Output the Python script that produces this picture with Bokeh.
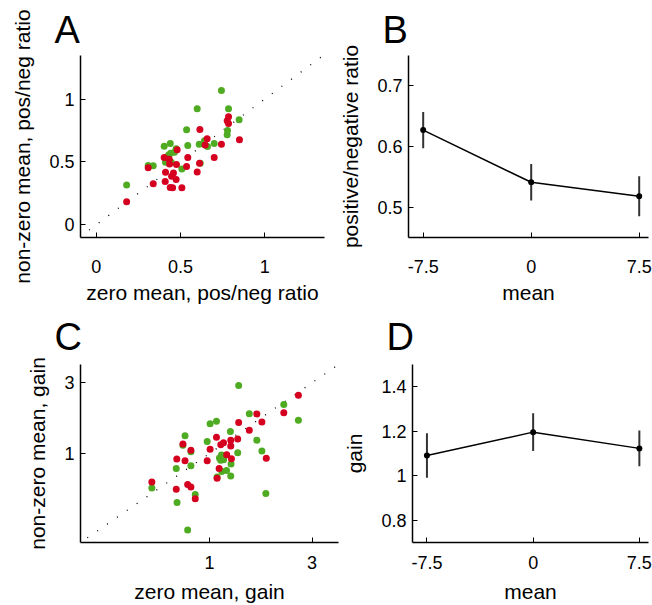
from bokeh.plotting import figure
from bokeh.layouts import column, row
from bokeh.models import FixedTicker, Range1d
from bokeh.embed import file_html
from bokeh.resources import INLINE

FONT = "Liberation Sans"
GREEN = "#4fab22"
RED = "#d5001f"

# ---------------- data ----------------
# Panel A: pos/neg ratio, zero mean (x) vs non-zero mean (y)
a_green_x = [0.743, 0.599, 0.785, 0.848, 0.536, 0.779, 0.777, 0.642, 0.611, 0.660, 0.700, 0.439, 0.403,
             0.543, 0.474, 0.441, 0.464, 0.429, 0.411, 0.445, 0.308, 0.338, 0.508, 0.617, 0.180]
a_green_y = [1.068, 0.924, 0.924, 0.836, 0.755, 0.750, 0.716, 0.669, 0.640, 0.623, 0.646, 0.646, 0.625,
             0.630, 0.604, 0.568, 0.576, 0.555, 0.497, 0.497, 0.471, 0.469, 0.443, 0.490, 0.315]
a_red_x = [0.785, 0.777, 0.785, 0.615, 0.658, 0.646, 0.743, 0.850, 0.480, 0.403, 0.433, 0.435, 0.543, 0.700,
           0.476, 0.536, 0.613, 0.308, 0.411, 0.458, 0.447, 0.599, 0.474, 0.409, 0.338, 0.439, 0.453, 0.508, 0.180]
a_red_y = [0.859, 0.828, 0.805, 0.758, 0.685, 0.635, 0.640, 0.677, 0.596, 0.534, 0.521, 0.484, 0.534, 0.534,
           0.479, 0.463, 0.490, 0.453, 0.417, 0.412, 0.385, 0.419, 0.359, 0.344, 0.326, 0.297, 0.294, 0.294, 0.182]
a_ticks = [0, 0.5, 1]
a_tick_labels = ["0", "0.5", "1"]
a_identity = [-0.1, 1.35]

# Panel C: gain, zero mean (x) vs non-zero mean (y), log axes
c_green_x = [1.366, 2.215, 2.59, 1.531, 1.006, 1.077, 1.25, 0.975, 1.66, 0.769, 0.752, 0.819, 1.352, 1.752,
             1.112, 1.137, 1.162, 1.127, 1.259, 0.819, 0.70, 1.20, 1.14, 1.255, 1.084, 0.539, 0.858, 0.706,
             1.828, 0.791]
c_green_y = [2.868, 2.135, 1.678, 1.853, 1.587, 1.652, 1.406, 1.205, 1.229, 1.319, 1.135, 1.026, 1.01, 1.041,
             0.933, 0.976, 0.906, 0.90, 0.848, 0.827, 0.791, 0.767, 0.756, 0.704, 0.694, 0.585, 0.529, 0.467,
             0.537, 0.305]
c_red_x = [2.59, 2.215, 1.66, 1.752, 1.366, 1.531, 1.077, 1.255, 1.352, 1.161, 1.128, 1.255, 0.752, 0.819,
           1.006, 0.704, 0.769, 0.975, 1.202, 1.264, 1.836, 1.108, 1.084, 0.539, 0.791, 0.819, 0.70, 0.858]
c_red_y = [2.466, 1.882, 1.845, 1.629, 1.618, 1.435, 1.285, 1.229, 1.253, 1.18, 1.145, 1.122, 1.157, 1.052,
           1.068, 0.919, 0.892, 0.892, 0.98, 0.923, 0.927, 0.791, 0.68, 0.643, 0.618, 0.594, 0.573, 0.496]
c_ticks = [1, 3]
c_tick_labels = ["1", "3"]
c_identity = [0.27, 3.9]

# Panels B and D: means
means = [-7.5, 0, 7.5]
mean_tick_labels = ["-7.5", "0", "7.5"]
ratio_vals = [0.627, 0.541, 0.518]
ratio_err = [0.030, 0.030, 0.033]
ratio_ticks = [0.5, 0.6, 0.7]
ratio_tick_labels = ["0.5", "0.6", "0.7"]
gain_vals = [1.091, 1.196, 1.123]
gain_err = [0.100, 0.085, 0.080]
gain_ticks = [0.8, 1, 1.2, 1.4]
gain_tick_labels = ["0.8", "1", "1.2", "1.4"]


def style(p, xt, xl, yt, yl, xlabel, ylabel, x_std, x_lab_std):
    p.outline_line_color = None
    p.grid.visible = False
    p.background_fill_color = "white"
    p.border_fill_color = "white"
    for ax, ticks, labels, lab in ((p.xaxis[0], xt, xl, xlabel), (p.yaxis[0], yt, yl, ylabel)):
        ax.ticker = FixedTicker(ticks=ticks, minor_ticks=[])
        ax.major_label_overrides = {t: l for t, l in zip(ticks, labels)}
        ax.minor_tick_line_color = None
        ax.major_tick_in = 5
        ax.major_tick_out = 0
        ax.major_tick_line_width = 1
        ax.axis_line_width = 1.5
        ax.axis_line_color = "black"
        ax.major_tick_line_color = "black"
        ax.major_label_text_font = FONT
        ax.major_label_text_font_size = "18px"
        ax.major_label_text_color = "black"
        ax.axis_label = lab
        ax.axis_label_text_font = FONT
        ax.axis_label_text_font_size = "21px"
        ax.axis_label_text_font_style = "normal"
        ax.axis_label_text_color = "black"
    p.xaxis.major_label_standoff = x_std
    p.xaxis.axis_label_standoff = x_lab_std
    p.yaxis.major_label_standoff = 6
    p.yaxis.axis_label_standoff = 12


def letter(p, txt, standoff):
    p.title.text = txt
    p.title.text_font = FONT
    p.title.text_font_size = "38px"
    p.title.text_font_style = "normal"
    p.title.text_color = "black"
    p.title.align = "left"
    p.title.offset = -26
    p.title.standoff = standoff


# ---------- A ----------
pa = figure(width=330, height=306, min_border_left=80, min_border_right=6, min_border_top=55,
            min_border_bottom=66, x_range=Range1d(-0.094, 1.355), y_range=Range1d(-0.102, 1.347),
            output_backend="svg", toolbar_location=None)
pa.line(a_identity, a_identity, line_color="black", line_width=1.3, line_dash="1 11")
pa.scatter(a_green_x, a_green_y, size=7, fill_color=GREEN, line_color=None)
pa.scatter(a_red_x, a_red_y, size=7, fill_color=RED, line_color=None)
style(pa, a_ticks, a_tick_labels, a_ticks, a_tick_labels, "zero mean, pos/neg ratio",
      "non-zero mean, pos/neg ratio", 22, 5)
letter(pa, "A", 9)

# ---------- B ----------
pb = figure(width=322, height=306, min_border_left=78, min_border_right=4, min_border_top=55,
            min_border_bottom=66, x_range=Range1d(-8.52, 8.146), y_range=Range1d(0.45, 0.75),
            output_backend="svg", toolbar_location=None)
pb.segment(x0=means, y0=[v - e for v, e in zip(ratio_vals, ratio_err)], x1=means,
           y1=[v + e for v, e in zip(ratio_vals, ratio_err)], line_color="#333333", line_width=2)
pb.line(means, ratio_vals, line_color="black", line_width=1.5)
pb.scatter(means, ratio_vals, size=6, fill_color="black", line_color=None)
style(pb, means, mean_tick_labels, ratio_ticks, ratio_tick_labels, "mean", "positive/negative ratio", 22, 5)
letter(pb, "B", 9)

# ---------- C ----------
pc = figure(width=340, height=299, min_border_left=80, min_border_right=2, min_border_top=57,
            min_border_bottom=58, x_axis_type="log", y_axis_type="log",
            x_range=Range1d(0.251, 3.98), y_range=Range1d(0.251, 3.98),
            output_backend="svg", toolbar_location=None)
pc.line(c_identity, c_identity, line_color="black", line_width=1.3, line_dash="1 11")
pc.scatter(c_green_x, c_green_y, size=7, fill_color=GREEN, line_color=None)
pc.scatter(c_red_x, c_red_y, size=7, fill_color=RED, line_color=None)
style(pc, c_ticks, c_tick_labels, c_ticks, c_tick_labels, "zero mean, gain", "non-zero mean, gain", 13, 8)
letter(pc, "C", 14)

# ---------- D ----------
pd_ = figure(width=312, height=299, min_border_left=68, min_border_right=4, min_border_top=57,
             min_border_bottom=58, x_range=Range1d(-8.52, 8.146), y_range=Range1d(0.7, 1.5),
             output_backend="svg", toolbar_location=None)
pd_.segment(x0=means, y0=[v - e for v, e in zip(gain_vals, gain_err)], x1=means,
            y1=[v + e for v, e in zip(gain_vals, gain_err)], line_color="#333333", line_width=2)
pd_.line(means, gain_vals, line_color="black", line_width=1.5)
pd_.scatter(means, gain_vals, size=6, fill_color="black", line_color=None)
style(pd_, means, mean_tick_labels, gain_ticks, gain_tick_labels, "mean", "gain", 13, 8)
letter(pd_, "D", 14)

layout = column(row(pa, pb), row(pc, pd_))
open("out.html", "w").write(file_html(layout, INLINE))
